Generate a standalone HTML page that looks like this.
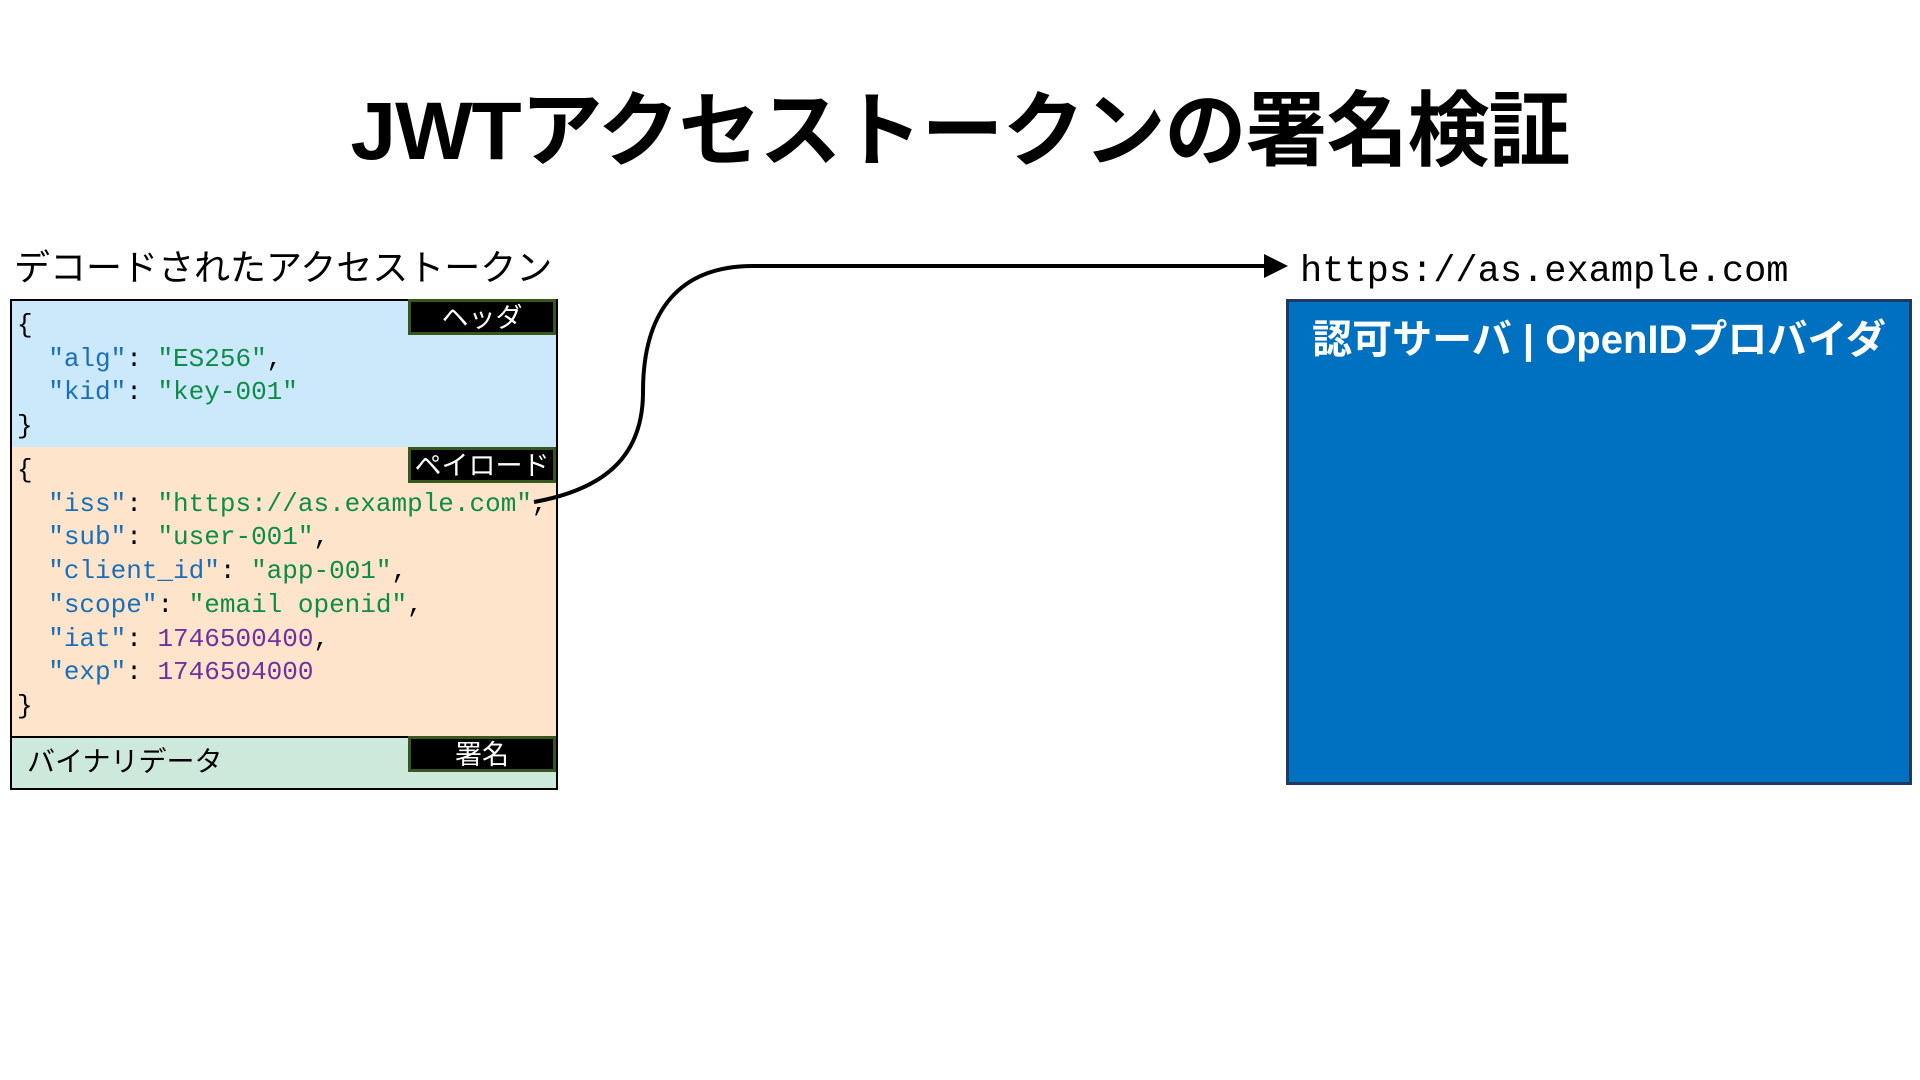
<!DOCTYPE html>
<html><head><meta charset="utf-8"><style>
body{margin:0;width:1920px;height:1080px;background:#fff;position:relative;overflow:hidden;font-family:"Liberation Sans","Noto Sans CJK JP",sans-serif}
.a{position:absolute;white-space:nowrap}
.mono{font-family:"Liberation Mono","Noto Sans CJK JP",monospace;font-size:26px;line-height:33.7px;white-space:pre}
.k{color:#1a6fb8}.s{color:#0d8c4a}.n{color:#7030a0}
.lbl{position:absolute;left:408px;width:142px;height:30px;background:#000;border:3px solid #38571a;color:#fff;font-size:27px;text-align:center;line-height:32px}
</style></head><body>
<div class="a" style="left:0;width:1920px;text-align:center;top:82px;font-size:82px;font-weight:bold;line-height:100px;letter-spacing:-1px">JWTアクセストークンの署名検証</div>
<div class="a" style="left:14px;top:246px;font-size:36px;line-height:44px">デコードされたアクセストークン</div>
<div class="a" style="left:10px;top:299px;width:544px;height:148px;background:#cce8fb;border:2px solid #000"></div>
<div class="a" style="left:10px;top:447px;width:544px;height:289px;background:#fde4cb;border:2px solid #000;border-top:0"></div>
<div class="a" style="left:10px;top:736px;width:544px;height:50px;background:#cde9dc;border:2px solid #000"></div>
<div class="lbl" style="top:299px">ヘッダ</div>
<div class="lbl" style="top:447px">ペイロード</div>
<div class="lbl" style="top:736px">署名</div>
<div class="a mono" style="left:17px;top:309px">{
  <span class="k">"alg"</span>: <span class="s">"ES256"</span>,
  <span class="k">"kid"</span>: <span class="s">"key-001"</span>
}</div>
<div class="a mono" style="left:17px;top:454px">{
  <span class="k">"iss"</span>: <span class="s">"https://as.example.com"</span>,
  <span class="k">"sub"</span>: <span class="s">"user-001"</span>,
  <span class="k">"client_id"</span>: <span class="s">"app-001"</span>,
  <span class="k">"scope"</span>: <span class="s">"email openid"</span>,
  <span class="k">"iat"</span>: <span class="n">1746500400</span>,
  <span class="k">"exp"</span>: <span class="n">1746504000</span>
}</div>
<div class="a" style="left:27px;top:744px;font-size:28px;line-height:36px">バイナリデータ</div>
<svg class="a" style="left:0;top:0" width="1920" height="1080">
<path d="M534,502 C600,490 643,460 643,392 C643,310 680,266 753,266 L1268,266" fill="none" stroke="#000" stroke-width="4"/>
<polygon points="1264,254 1288,266 1264,278" fill="#000"/>
</svg>
<div class="a" style="left:1300px;top:250px;font-family:'Liberation Mono',monospace;font-size:37px;line-height:44px">https://as.example.com</div>
<div class="a" style="left:1286px;top:299px;width:620px;height:480px;background:#0070c0;border:3px solid #1f3864"></div>
<div class="a" style="left:1286px;width:626px;text-align:center;top:316px;color:#fff;font-weight:bold;font-size:40px;line-height:48px">認可サーバ | OpenIDプロバイダ</div>
</body></html>
